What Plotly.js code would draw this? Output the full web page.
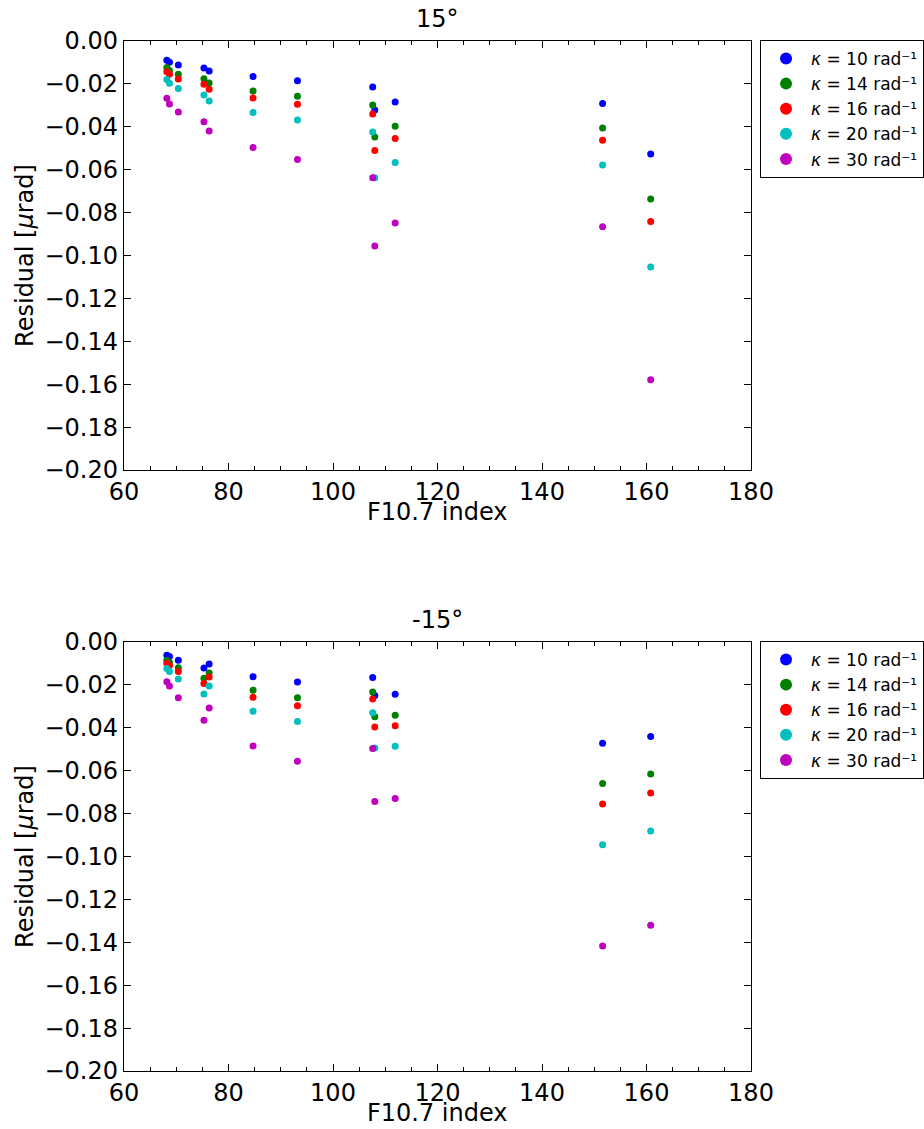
<!DOCTYPE html>
<html>
<head>
<meta charset="utf-8">
<script src="https://cdn.plot.ly/plotly-3.0.1.min.js"></script>
<style>html,body{margin:0;padding:0;background:#fff;}#chart{width:924px;height:1129px;}</style>
</head>
<body>
<div id="chart"></div>
<script>
// F10.7 index values (shared by all series)
const f107 = [68.2, 68.7, 70.4, 75.3, 76.3, 84.7, 93.2, 107.6, 108.0, 111.9, 151.6, 160.8];

const kappaLabels = ["10", "14", "16", "20", "30"];
const colors = ["#0000ff", "#008000", "#ff0000", "#00bfbf", "#bf00bf"];

// Top panel: 15°
const top_k10 = [-0.0090, -0.0099, -0.0112, -0.0126, -0.0140, -0.0166, -0.0185, -0.0214, -0.0322, -0.0284, -0.0291, -0.0527];
const top_k14 = [-0.0124, -0.0137, -0.0155, -0.0176, -0.0196, -0.0233, -0.0258, -0.0298, -0.0448, -0.0398, -0.0406, -0.0737];
const top_k16 = [-0.0143, -0.0155, -0.0177, -0.0202, -0.0225, -0.0266, -0.0295, -0.0340, -0.0511, -0.0454, -0.0463, -0.0842];
const top_k20 = [-0.0179, -0.0197, -0.0222, -0.0252, -0.0280, -0.0333, -0.0368, -0.0424, -0.0637, -0.0566, -0.0578, -0.1054];
const top_k30 = [-0.0267, -0.0294, -0.0331, -0.0376, -0.0420, -0.0497, -0.0552, -0.0637, -0.0956, -0.0848, -0.0866, -0.1579];

// Bottom panel: -15°
const bot_k10 = [-0.0062, -0.0068, -0.0085, -0.0121, -0.0103, -0.0162, -0.0186, -0.0166, -0.0249, -0.0244, -0.0472, -0.0440];
const bot_k14 = [-0.0085, -0.0096, -0.0120, -0.0169, -0.0145, -0.0225, -0.0260, -0.0233, -0.0348, -0.0342, -0.0660, -0.0615];
const bot_k16 = [-0.0099, -0.0109, -0.0138, -0.0194, -0.0163, -0.0258, -0.0297, -0.0266, -0.0396, -0.0390, -0.0755, -0.0704];
const bot_k20 = [-0.0124, -0.0137, -0.0172, -0.0242, -0.0205, -0.0323, -0.0371, -0.0330, -0.0494, -0.0486, -0.0945, -0.0881];
const bot_k30 = [-0.0185, -0.0205, -0.0260, -0.0365, -0.0308, -0.0485, -0.0556, -0.0496, -0.0744, -0.0730, -0.1417, -0.1321];

const topSeries = [top_k10, top_k14, top_k16, top_k20, top_k30];
const botSeries = [bot_k10, bot_k14, bot_k16, bot_k20, bot_k30];

const panelTitles = ["15°", "-15°"];
const xTitle = "F10.7 index";
const yTitle = "Residual [<i>μ</i>rad]";

const FONT = "DejaVu Sans, sans-serif";
const FS = 24;
const traces = [];
function addPanel(series, xa, ya, leg) {
  series.forEach((ys, i) => {
    traces.push({
      type: "scatter", mode: "markers",
      x: f107, y: ys,
      xaxis: xa, yaxis: ya, legend: leg,
      name: "<i>κ</i> = " + kappaLabels[i] + " rad⁻¹",
      marker: {color: colors[i], size: 7, line: {width: 0}}
    });
  });
}
addPanel(topSeries, "x", "y", "legend");
addPanel(botSeries, "x2", "y2", "legend2");

function xaxis(domainAnchor) {
  return {
    anchor: domainAnchor, domain: [0, 1],
    range: [60, 180], dtick: 20, tick0: 60,
    showline: true, linecolor: "#000", linewidth: 1.2, mirror: "allticks",
    ticks: "inside", ticklen: 7, tickwidth: 1, tickcolor: "#000",
    minor: {dtick: 5, ticks: "inside", ticklen: 4, tickwidth: 1, tickcolor: "#000", showgrid: false},
    showgrid: false, zeroline: false,
    tickfont: {family: FONT, size: FS, color: "#000"},
    automargin: false
  };
}
function yaxis(domainAnchor, dom) {
  return {
    anchor: domainAnchor, domain: dom,
    range: [-0.2, 0], dtick: 0.02, tick0: 0, tickformat: ".2f",
    showline: true, linecolor: "#000", linewidth: 1.2, mirror: "allticks",
    ticks: "inside", ticklen: 7, tickwidth: 1, tickcolor: "#000",
    showgrid: false, zeroline: false,
    tickfont: {family: FONT, size: FS, color: "#000"},
    title: {text: yTitle, font: {family: FONT, size: FS, color: "#000"}, standoff: 4},
    automargin: false
  };
}

const legendCommon = {
  x: 1.0144, xanchor: "left", yanchor: "top",
  bgcolor: "#fff", bordercolor: "#000", borderwidth: 1,
  font: {family: FONT, size: 17, color: "#000"},
  tracegroupgap: 0, itemsizing: "constant", itemwidth: 40
};

const titleFont = {family: FONT, size: FS, color: "#000"};
const layout = {
  width: 924, height: 1129,
  paper_bgcolor: "#fff", plot_bgcolor: "#fff",
  margin: {l: 124, r: 173, t: 41, b: 58, autoexpand: false},
  showlegend: true,
  font: {family: FONT, color: "#000"},
  xaxis: xaxis("y"),
  yaxis: yaxis("x", [0.5835, 1]),
  xaxis2: xaxis("y2"),
  yaxis2: yaxis("x2", [0, 0.4165]),
  legend: Object.assign({}, legendCommon, {y: 1.001}),
  legend2: Object.assign({}, legendCommon, {y: 0.4175}),
  annotations: [
    {text: panelTitles[0], xref: "paper", yref: "paper", x: 0.5, y: 1.0, yshift: 6, xanchor: "center", yanchor: "bottom", showarrow: false, font: titleFont},
    {text: panelTitles[1], xref: "paper", yref: "paper", x: 0.5, y: 0.4165, yshift: 6, xanchor: "center", yanchor: "bottom", showarrow: false, font: titleFont},
    {text: xTitle, xref: "paper", yref: "paper", x: 0.5, y: 0.5835, yshift: -57, borderpad: 0, xanchor: "center", yanchor: "bottom", showarrow: false, font: titleFont},
    {text: xTitle, xref: "paper", yref: "paper", x: 0.5, y: 0, yshift: -57, borderpad: 0, xanchor: "center", yanchor: "bottom", showarrow: false, font: titleFont}
  ]
};

Plotly.newPlot("chart", traces, layout, {displayModeBar: false, staticPlot: true});
</script>
</body>
</html>
